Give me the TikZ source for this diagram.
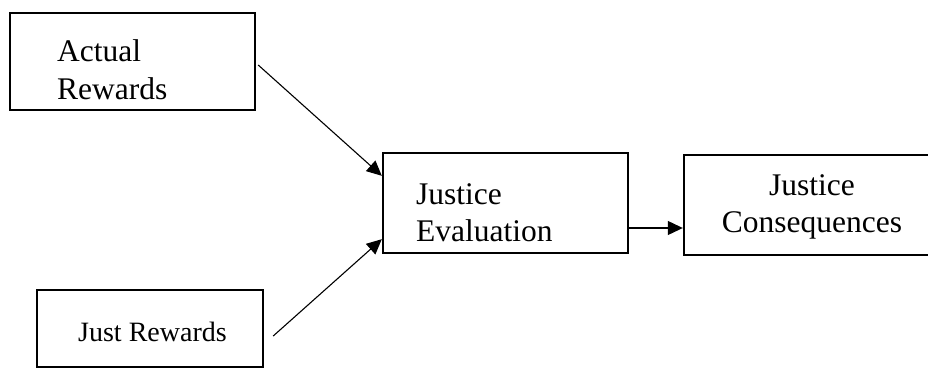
\documentclass[tikz,border=0pt]{standalone}
\usepackage{fontspec}
\setmainfont{Liberation Serif}
\usetikzlibrary{arrows.meta}
\tikzset{
  box/.style={draw, line width=2.4pt, rectangle, inner sep=0pt},
  lbl/.style={inner sep=0pt, font=\fontsize{31.5}{37}\selectfont},
  smalllbl/.style={inner sep=0pt, font=\fontsize{28}{33}\selectfont},
  conn/.style={line width=1.1pt, -{Triangle[length=15pt,width=14pt]}}
}
\begin{document}
\begin{tikzpicture}[x=1pt,y=-1pt]
\useasboundingbox (0,0) rectangle (928,369);
\clip (0,0) rectangle (928,369);
% boxes
\node[box, minimum width=245pt, minimum height=97pt] (ar) at (132.5,61.5) {};
\node[box, minimum width=226pt, minimum height=77pt] (jr) at (150,328.5) {};
\node[box, minimum width=245pt, minimum height=100pt] (je) at (505.5,203) {};
\node[box, minimum width=262pt, minimum height=100pt] (jc) at (815,205) {};
% labels (base anchor = baseline of last line)
\node[lbl, anchor=base west, align=left] (art) at (57,99) {Actual\\Rewards};
\node[smalllbl, anchor=base west] (jrt) at (78,341) {Just Rewards};
\node[lbl, anchor=base west, align=left] (jet) at (416,241) {Justice\\Evaluation};
\node[lbl, anchor=base, align=center] (jct) at (812,232) {Justice\\Consequences};
% connectors
\draw[conn] ([shift={(2pt,-3.5pt)}]ar.east) -- ([yshift=-24pt]je.north west);
\draw[conn] ([shift={(9pt,-7.5pt)}]jr.east) -- ([yshift=15pt]je.south west);
\draw[conn] ([yshift=-25pt]je.east) -- ([yshift=-23pt]jc.west);
\end{tikzpicture}
\end{document}
